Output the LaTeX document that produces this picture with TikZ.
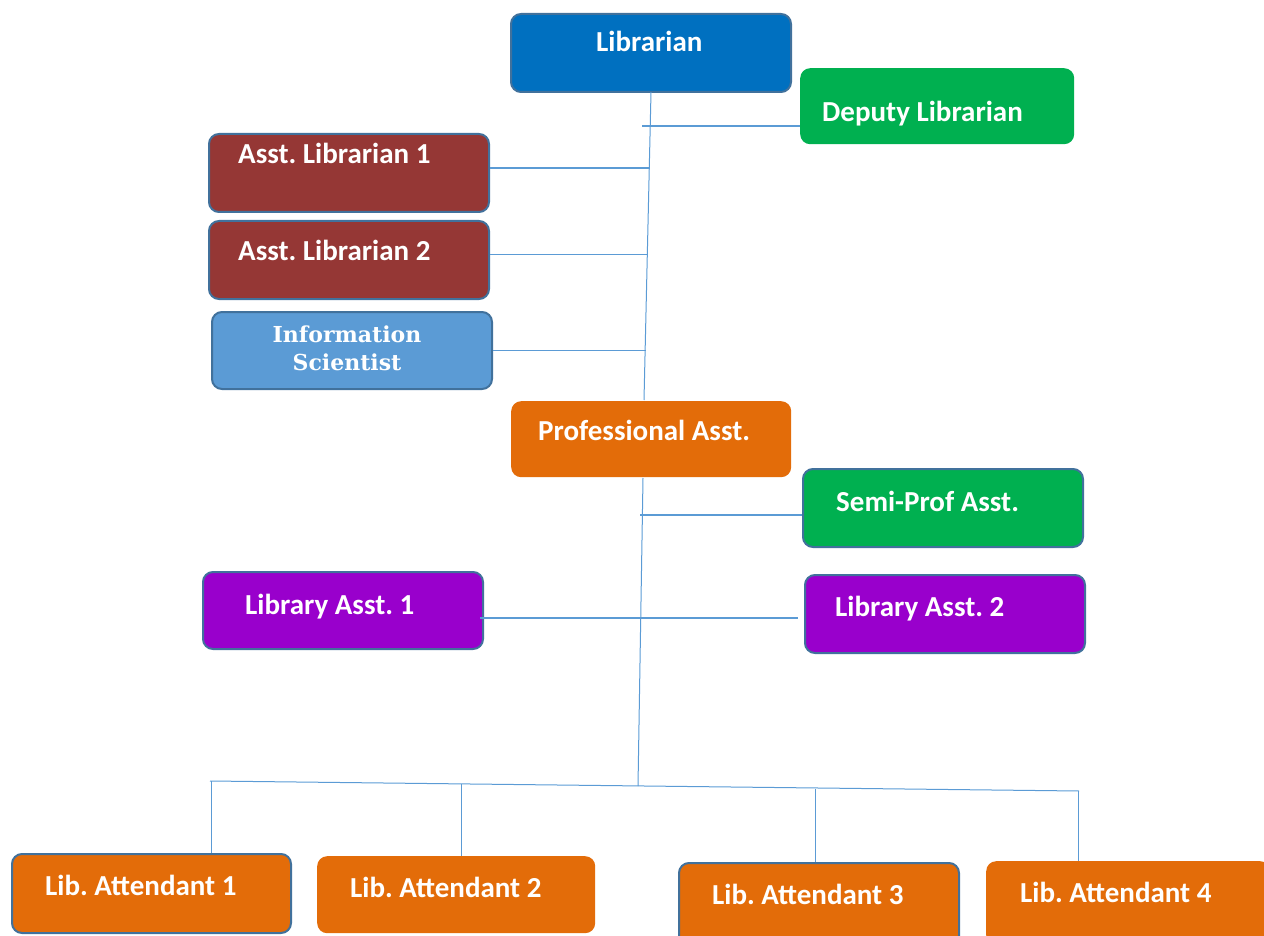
\documentclass[tikz,border=0pt]{standalone}
\usepackage{fontspec}
\setmainfont{Carlito}
\newfontfamily\infofont{DejaVu Serif}
\frenchspacing
\definecolor{cLib}{HTML}{0070C0}
\definecolor{cGreen}{HTML}{00B050}
\definecolor{cBrown}{HTML}{953735}
\definecolor{cInfo}{HTML}{5B9BD5}
\definecolor{cOrange}{HTML}{E36C09}
\definecolor{cPurple}{HTML}{9900CC}
\definecolor{cEdge}{HTML}{41719C}
\definecolor{cLine}{HTML}{5B9BD5}
\tikzset{
  box/.style={rectangle, rounded corners=10pt, anchor=north west, inner sep=0pt},
  bordered/.style={draw=cEdge, line width=2pt},
  txt/.style={anchor=base west, inner sep=0pt, text=white, font=\fontsize{29}{34}\selectfont\bfseries},
  thin/.style={draw=cLine, line width=1pt},
  thickl/.style={draw=cLine, line width=2.2pt},
}
\begin{document}
\begin{tikzpicture}[x=1pt,y=-1pt]
\useasboundingbox (0,0) rectangle (1264,936);
% boxes
\node[box, bordered, fill=cLib, minimum width=280pt, minimum height=78pt] (lib) at (510,13) {};
\node[box, fill=cGreen, minimum width=274pt, minimum height=76pt] (dep) at (800,68) {};
\node[box, bordered, fill=cBrown, minimum width=280pt, minimum height=78pt] (a1) at (208,133) {};
\node[box, bordered, fill=cBrown, minimum width=280pt, minimum height=78pt] (a2) at (208,220) {};
\node[box, bordered, fill=cInfo, minimum width=280pt, minimum height=77pt] (info) at (211,311) {};
\node[box, fill=cOrange, minimum width=280pt, minimum height=76pt] (prof) at (511,401) {};
\node[box, bordered, fill=cGreen, minimum width=280pt, minimum height=78pt] (semi) at (802,468) {};
\node[box, bordered, fill=cPurple, minimum width=280pt, minimum height=77pt] (la1) at (202,571) {};
\node[box, bordered, fill=cPurple, minimum width=280pt, minimum height=78pt] (la2) at (804,574) {};
\node[box, bordered, fill=cOrange, minimum width=279pt, minimum height=79pt] (at1) at (11,853) {};
\node[box, fill=cOrange, minimum width=278pt, minimum height=77pt] (at2) at (317,856) {};
\node[box, bordered, fill=cOrange, minimum width=280pt, minimum height=84pt] (at3) at (678,862) {};
\node[box, fill=cOrange, minimum width=284pt, minimum height=84pt] (at4) at (986,861) {};
% texts
\node[txt] (tlib) at (596,52) {Librarian};
\node[txt] (tdep) at (822,122) {Deputy Librarian};
\node[txt] (ta1) at (238,164) {Asst. Librarian 1};
\node[txt] (ta2) at (238,261) {Asst. Librarian 2};
\node[anchor=center, inner sep=0pt, text=white, align=center, font=\infofont\fontsize{22}{28}\selectfont\bfseries] (tinfo) at (347,348) {Information\\Scientist};
\node[txt] (tprof) at (538,440) {Professional Asst.};
\node[txt] (tsemi) at (836,511) {Semi-Prof Asst.};
\node[txt] (tla1) at (245,614) {Library Asst. 1};
\node[txt] (tla2) at (835,616) {Library Asst. 2};
\node[txt] (tat1) at (45,895) {Lib. Attendant 1};
\node[txt] (tat2) at (350,897) {Lib. Attendant 2};
\node[txt] (tat3) at (712,904) {Lib. Attendant 3};
\node[txt] (tat4) at (1020,902) {Lib. Attendant 4};
% spine coordinates
\coordinate (s0) at (651,92);
\coordinate (s1) at (644,400);
\coordinate (jd) at (642,126);
\coordinate (j1) at (649,168);
\coordinate (j2) at (648,255);
\coordinate (j3) at (646,350);
\coordinate (p0) at (643,478);
\coordinate (p1) at (638,786);
\coordinate (js) at (640,515);
\coordinate (jl) at (480,618);
\coordinate (b1) at (210,781);
\coordinate (b2) at (1079,791);
\coordinate (d1) at (211,781);
\coordinate (d2) at (461,784);
\coordinate (d3) at (815,789);
\coordinate (d4) at (1078,791);
% connectors
\draw[thin] (s0) -- (s1);
\draw[thin] (p0) -- (p1);
\draw[thickl] (jd) -- (jd -| dep.west);
\draw[thickl] (a1.east |- j1) -- (j1);
\draw[thin] (a2.east |- j2) -- (j2);
\draw[thin] (info.east |- j3) -- (j3);
\draw[thickl] (js) -- (js -| semi.west);
\draw[thickl] (jl) -- (798,618);
\draw[thin] (b1) -- (b2);
\draw[thin] (d1) -- (d1 |- at1.north);
\draw[thin] (d2) -- (d2 |- at2.north);
\draw[thin] (d3) -- (d3 |- at3.north);
\draw[thin] (d4) -- (d4 |- at4.north);
\end{tikzpicture}
\end{document}
